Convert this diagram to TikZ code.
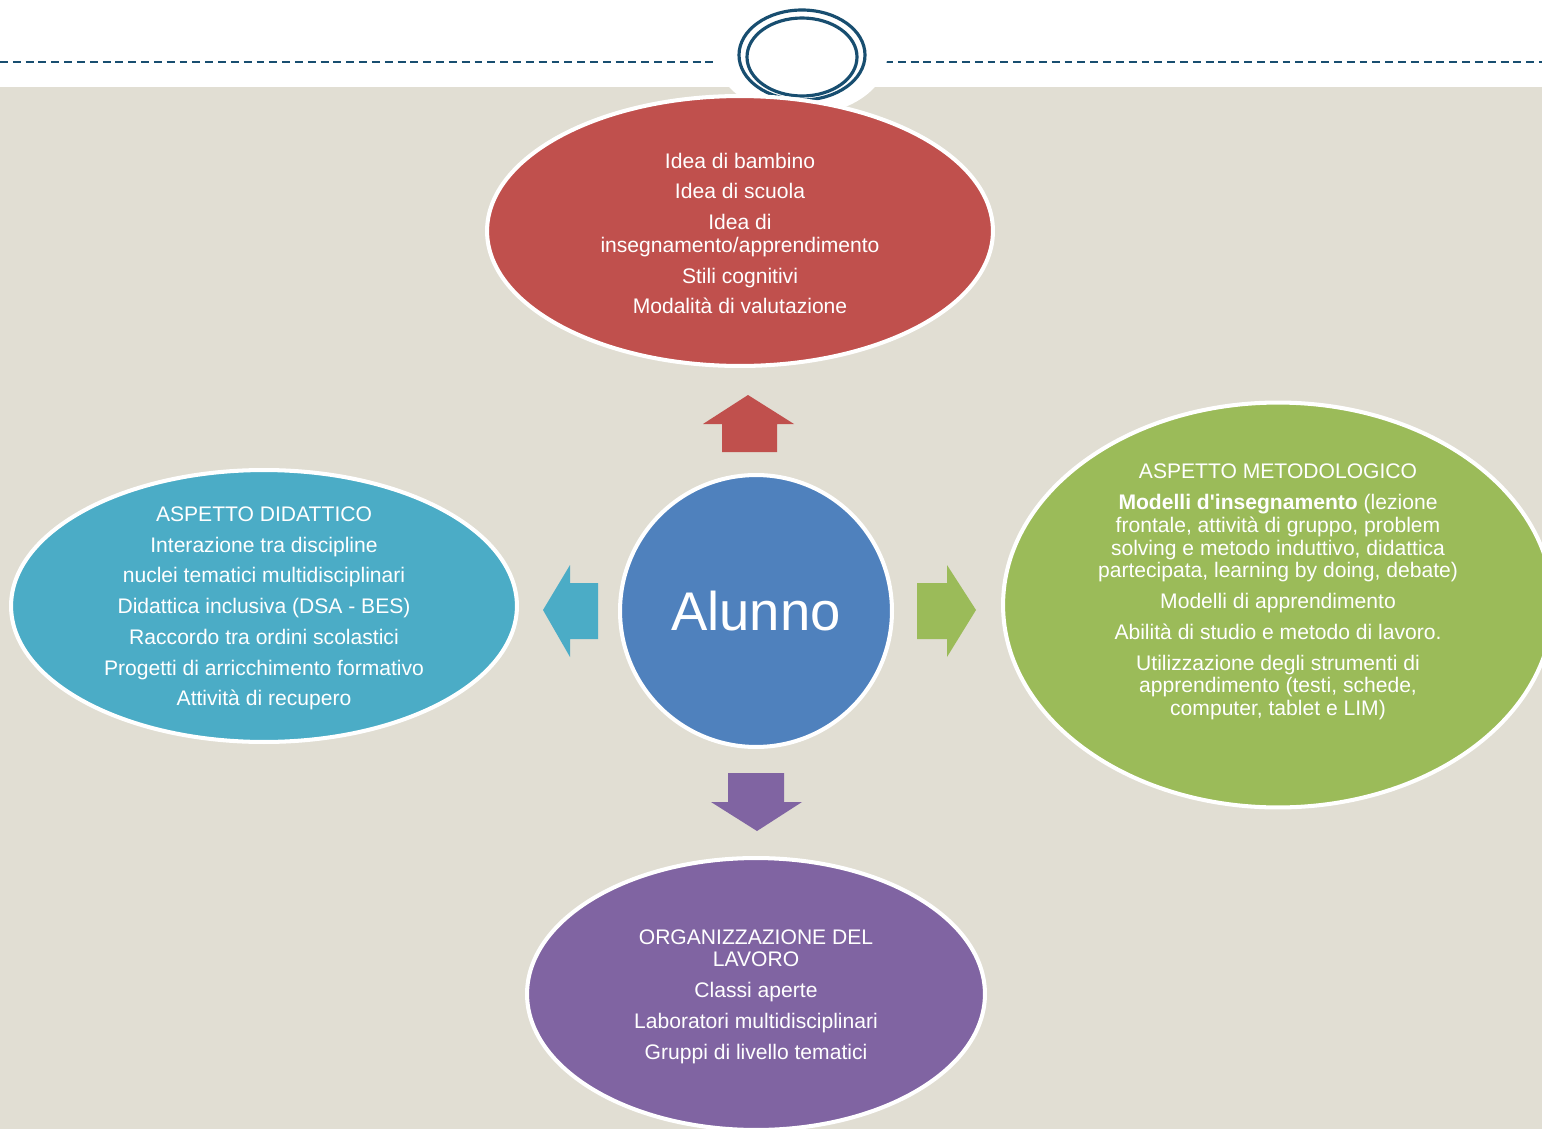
\documentclass[tikz,border=0pt]{standalone}
\usepackage{fontspec}
\setmainfont{Liberation Sans}
\usetikzlibrary{shapes}

\definecolor{bgbeige}{RGB}{225,222,211}
\definecolor{ringblue}{RGB}{24,78,112}
\definecolor{ideared}{RGB}{192,80,77}
\definecolor{alunnoblue}{RGB}{79,129,189}
\definecolor{didacyan}{RGB}{75,172,198}
\definecolor{metogreen}{RGB}{155,187,89}
\definecolor{orgpurple}{RGB}{128,100,162}

\begin{document}
\begin{tikzpicture}[x=0.02cm, y=-0.02cm,
  bubble/.style = {shape=ellipse, draw=white, line width=2.3pt, inner sep=0pt},
  bubbletext/.style = {text=white, align=center, inner sep=0pt, yshift=-0.05cm,
    font=\fontsize{12}{13}\selectfont},
  ring/.style = {draw=ringblue, line width=1.8pt}]
  \useasboundingbox (0,0) rectangle (1542,1129);
  % background and top ornament
  \fill[bgbeige] (0,87) rectangle (1542,1129);
  \draw[ringblue, line width=1.1pt, dash pattern=on 4.5pt off 2.8pt] (0,62) -- (1542,62);
  \fill[white] (802,57) ellipse [x radius=85, y radius=58];
  \draw[ring] (802,55) ellipse [x radius=63, y radius=45];
  \draw[ring] (802,57) ellipse [x radius=55, y radius=39];

  % the four areas
  \node[bubble, fill=ideared, minimum width=10.12cm, minimum height=5.4cm,
    label={[bubbletext]center:{Idea di bambino\\[4.5pt] Idea di scuola\\[4.5pt]
      Idea di\\ insegnamento/apprendimento\\[4.5pt] Stili cognitivi\\[4.5pt]
      Modalità di valutazione}}] (idea) at (740,231) {};
  \node[bubble, fill=didacyan, minimum width=10.12cm, minimum height=5.44cm,
    label={[bubbletext]center:{ASPETTO DIDATTICO\\[4.5pt] Interazione tra discipline\\[4.5pt]
      nuclei tematici multidisciplinari\\[4.5pt] Didattica inclusiva (DSA - BES)\\[4.5pt]
      Raccordo tra ordini scolastici\\[4.5pt] Progetti di arricchimento formativo\\[4.5pt]
      Attività di recupero}}] (didattico) at (264,606) {};
  \node[bubble, fill=metogreen, minimum width=11cm, minimum height=8.1cm,
    label={[bubbletext, yshift=0.31cm]center:{ASPETTO METODOLOGICO\\[4.5pt]
      \textbf{Modelli d\textquotesingle insegnamento} (lezione\\ frontale, attività di gruppo, problem\\
      solving e metodo induttivo, didattica\\ partecipata, learning by doing, debate)\\[4.5pt]
      Modelli di apprendimento\\[4.5pt] Abilità di studio e metodo di lavoro.\\[4.5pt]
      Utilizzazione degli strumenti di\\ apprendimento (testi, schede,\\
      computer, tablet e LIM)}}] (metodo) at (1278,605) {};
  \node[bubble, fill=orgpurple, minimum width=9.16cm, minimum height=5.44cm,
    label={[bubbletext]center:{ORGANIZZAZIONE DEL\\ LAVORO\\[4.5pt] Classi aperte\\[4.5pt]
      Laboratori multidisciplinari\\[4.5pt] Gruppi di livello tematici}}] (organizza) at (756,994) {};

  % centre
  \node[bubble, shape=circle, fill=alunnoblue, minimum size=5.44cm, text=white,
    font=\fontsize{31}{36}\selectfont] (alunno) at (756,611) {Alunno};

  % block arrows
  \fill[ideared] (748,395) -- (794,424) -- (777,424) -- (777,452) -- (722,452) -- (722,424) -- (703,424) -- cycle;
  \fill[didacyan] (543,610) -- (570,565) -- (570,583) -- (598,583) -- (598,639) -- (570,639) -- (570,657) -- cycle;
  \fill[metogreen] (976,610) -- (947,565) -- (947,583) -- (917,583) -- (917,639) -- (947,639) -- (947,657) -- cycle;
  \fill[orgpurple] (757,831) -- (711,802) -- (728,802) -- (728,773) -- (784,773) -- (784,802) -- (802,802) -- cycle;
\end{tikzpicture}
\end{document}
